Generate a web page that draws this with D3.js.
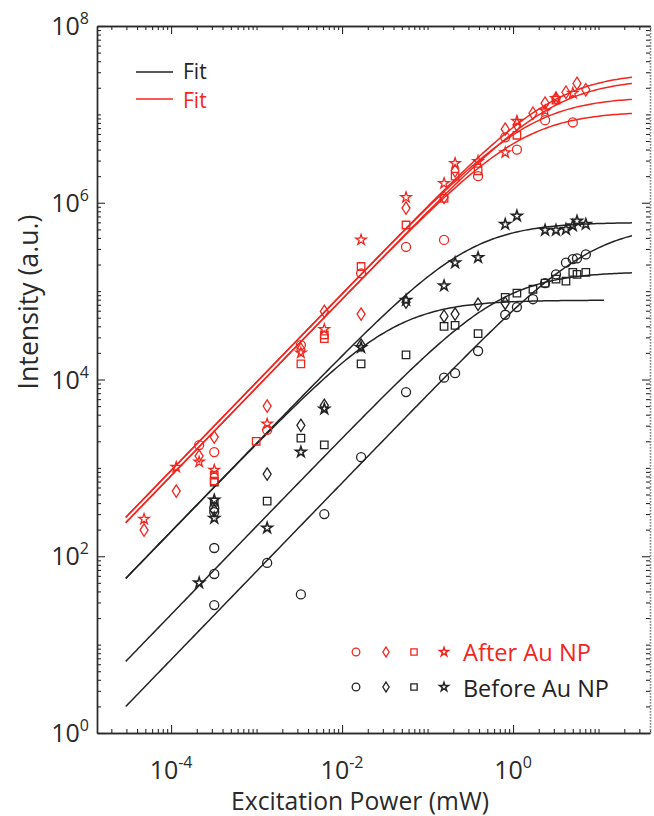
<!DOCTYPE html>
<html><head><meta charset="utf-8">
<script src="https://cdn.jsdelivr.net/npm/d3@7"></script>
<style>
body{margin:0;background:#fff;}
text{font-family:"Open Sans","Noto Sans",sans-serif;}
</style></head>
<body><svg id="c" width="654" height="816"></svg>
<script>
// ---------- tick labels ----------
const xMajorTicks = [1e-4, 1e-2, 1e0];
const xTickExps = ["-4", "-2", "0"];
const yMajorTicks = [1e0, 1e2, 1e4, 1e6, 1e8];
const yTickExps = ["0", "2", "4", "6", "8"];

// ---------- After Au NP (red) ----------
const afterCircleP = [2.13e-4, 3.2e-4, 1.33e-3, 3.3e-3, 1.67e-2, 5.6e-2, 0.156, 0.39, 0.81, 1.11, 2.37, 5.0];
const afterCircleI = [1810, 1510, 2690, 24500, 1.59e5, 3.16e5, 3.8e5, 2.0e6, 5.5e6, 4.0e6, 8.6e6, 8.1e6];
const afterDiamondP = [4.83e-5, 1.15e-4, 2.13e-4, 3.2e-4, 1.33e-3, 3.3e-3, 6.2e-3, 1.67e-2, 5.6e-2, 0.156, 0.21, 0.81, 1.11, 1.71, 2.37, 3.18, 4.16, 5.6, 7.1];
const afterDiamondI = [198, 546, 1360, 2230, 5000, 2.2e4, 5.9e4, 5.5e4, 8.7e5, 1.15e6, 2.3e6, 6.8e6, 7.6e6, 1.03e7, 1.34e7, 1.52e7, 1.78e7, 2.24e7, 1.9e7];
const afterSquareP = [3.2e-4, 3.2e-4, 9.9e-4, 3.3e-3, 6.2e-3, 6.2e-3, 1.67e-2, 5.6e-2, 0.156, 0.21, 0.39, 1.11, 3.18];
const afterSquareI = [830, 710, 2000, 1.5e4, 3.2e4, 2.9e4, 1.9e5, 5.6e5, 1.12e6, 2.0e6, 2.3e6, 5.8e6, 1.45e7];
const afterStarP = [4.83e-5, 1.15e-4, 2.13e-4, 3.2e-4, 1.33e-3, 3.3e-3, 6.2e-3, 1.67e-2, 5.6e-2, 0.156, 0.21, 0.39, 0.81, 1.11, 2.37, 3.18, 5.0];
const afterStarI = [263, 1020, 1170, 945, 3150, 2.0e4, 3.7e4, 3.8e5, 1.15e6, 1.66e6, 2.8e6, 2.95e6, 3.7e6, 8.4e6, 1.1e7, 1.52e7, 1.74e7];

// ---------- Before Au NP (black) ----------
const beforeCircleP = [3.2e-4, 3.2e-4, 3.2e-4, 3.2e-4, 3.2e-4, 1.33e-3, 3.3e-3, 6.2e-3, 1.67e-2, 5.6e-2, 0.156, 0.21, 0.39, 0.81, 1.11, 1.71, 2.37, 3.18, 4.16, 5.0, 5.6, 7.1];
const beforeCircleI = [350, 316, 124, 63, 28, 84, 37, 300, 1320, 7200, 1.05e4, 1.18e4, 2.1e4, 5.4e4, 6.6e4, 8.1e4, 1.23e5, 1.55e5, 2.1e5, 2.3e5, 2.35e5, 2.6e5];
const beforeDiamondP = [3.2e-4, 1.33e-3, 3.3e-3, 6.2e-3, 1.67e-2, 5.6e-2, 0.156, 0.21, 0.39, 0.81];
const beforeDiamondI = [330, 850, 3030, 5100, 2.45e4, 7.5e4, 5.2e4, 5.5e4, 7.1e4, 7.3e4];
const beforeSquareP = [3.2e-4, 3.2e-4, 1.33e-3, 3.3e-3, 6.2e-3, 1.67e-2, 5.6e-2, 0.156, 0.21, 0.39, 0.81, 1.11, 1.71, 2.37, 3.18, 4.16, 5.0, 5.6, 7.1];
const beforeSquareI = [690, 410, 420, 2170, 1820, 1.5e4, 1.9e4, 4.0e4, 4.1e4, 3.3e4, 8.5e4, 9.5e4, 1.05e5, 1.23e5, 1.37e5, 1.3e5, 1.63e5, 1.55e5, 1.63e5];
const beforeStarP = [2.13e-4, 3.2e-4, 3.2e-4, 1.33e-3, 3.3e-3, 6.2e-3, 1.67e-2, 5.6e-2, 0.156, 0.21, 0.39, 0.81, 1.11, 2.37, 3.18, 4.16, 5.0, 5.6, 7.1];
const beforeStarI = [50, 433, 270, 209, 1510, 4640, 2.3e4, 7.9e4, 1.15e5, 2.1e5, 2.4e5, 5.7e5, 7.1e5, 4.9e5, 4.9e5, 5.0e5, 5.5e5, 6.2e5, 5.7e5];

// ---------- saturation fits  I = Imax*(P/Psat)/(1+P/Psat) ----------
const fitGroup = ["after", "after", "after", "after", "before", "before", "before", "before"];
const fitImax  = [2.97e7, 2.52e7, 1.58e7, 1.08e7, 6.0e5, 7.9e4, 1.66e5, 5.68e5];
const fitPsat  = [3.18, 3.10, 1.694, 1.327, 0.315, 0.0415, 0.758, 8.4];
const fitPmin  = [2.95e-5, 2.95e-5, 2.95e-5, 2.95e-5, 2.95e-5, 2.95e-5, 2.95e-5, 2.95e-5];
const fitPmax  = [24.6, 24.6, 24.6, 24.6, 24.6, 11.6, 24.6, 24.6];

const legendLabels = ["After Au NP", "Before Au NP"];
const fitLabel = "Fit";

// ================== drawing ==================
const RED = "#f0261f", BLK = "#232323", AX = "#2a2a2a";
const svg = d3.select("#c");
const x = d3.scaleLog().domain([1.36e-5, 40]).range([97, 650]);
const y = d3.scaleLog().domain([1, 1e8]).range([733, 26]);

function minorTicks(lo, hi, scale) {
  const out = [];
  for (let k = lo; k <= hi; k++) for (let m = 1; m <= 9; m++) {
    const v = m * Math.pow(10, k);
    const d = scale.domain();
    if (v >= d[0] * 0.999 && v <= d[1] * 1.001) out.push(v);
  }
  return out;
}
const isMajor = (arr, v) => arr.some(t => Math.abs(Math.log10(t) - Math.log10(v)) < 1e-6);
const xMinor = minorTicks(-5, 1, x).filter(v => !isMajor(xMajorTicks, v));
const yMinor = minorTicks(0, 7, y).filter(v => !isMajor(yMajorTicks, v));

function styleAxis(g, color, dash) {
  g.select(".domain").attr("stroke", color).attr("stroke-width", 1.4).attr("stroke-dasharray", dash || null);
  g.selectAll(".tick line").attr("stroke", AX).attr("stroke-width", 1.1);
  g.selectAll(".tick text").remove();
}
function addAxis(axisFn, scale, tr, vals, size, color, dash) {
  svg.append("g").attr("transform", tr)
    .call(axisFn(scale).tickValues(vals).tickSize(-size).tickSizeOuter(0).tickFormat(""))
    .call(g => styleAxis(g, color, dash));
}
// minor
addAxis(d3.axisBottom, x, "translate(0,733)", xMinor, 4, AX);
addAxis(d3.axisTop, x, "translate(0,26)", xMinor, 4, AX);
addAxis(d3.axisLeft, y, "translate(97,0)", yMinor, 4, AX);
addAxis(d3.axisRight, y, "translate(650,0)", yMinor, 4, "#888", "1.5,1.5");
// major
addAxis(d3.axisBottom, x, "translate(0,733)", xMajorTicks, 8, AX);
addAxis(d3.axisTop, x, "translate(0,26)", xMajorTicks, 8, AX);
addAxis(d3.axisLeft, y, "translate(97,0)", yMajorTicks, 8, AX);
addAxis(d3.axisRight, y, "translate(650,0)", yMajorTicks, 8, "#888", "1.5,1.5");

// tick labels
xMajorTicks.forEach((v, i) => {
  const t = svg.append("text").attr("x", x(v)).attr("y", 779).attr("text-anchor", "middle").attr("fill", AX);
  t.append("tspan").attr("font-size", 25).text("10");
  t.append("tspan").attr("font-size", 16).attr("dy", -11).text(xTickExps[i]);
});
yMajorTicks.forEach((v, i) => {
  const t = svg.append("text").attr("x", 89).attr("y", y(v) + 9).attr("text-anchor", "end").attr("fill", AX);
  t.append("tspan").attr("font-size", 25).text("10");
  t.append("tspan").attr("font-size", 16).attr("dy", -11).text(yTickExps[i]);
});

function fitWidth(sel, w) {
  const L = sel.node().getComputedTextLength();
  sel.attr("font-size", parseFloat(sel.attr("font-size")) * w / L);
}
// axis titles
const xt = svg.append("text").attr("x", 360).attr("y", 810).attr("text-anchor", "middle")
  .attr("font-size", 22).attr("fill", AX).text("Excitation Power (mW)");
fitWidth(xt, 258);
const yt = svg.append("text").attr("transform", "translate(38,302) rotate(-90)").attr("text-anchor", "middle")
  .attr("font-size", 24).attr("fill", AX).text("Intensity (a.u.)");
fitWidth(yt, 175);

// fit curves
const line = d3.line().x(d => x(d[0])).y(d => y(d[1]));
fitImax.forEach((Imax, i) => {
  const pts = d3.range(0, 201).map(j => {
    const lp = Math.log10(fitPmin[i]) + (Math.log10(fitPmax[i]) - Math.log10(fitPmin[i])) * j / 200;
    const P = Math.pow(10, lp), u = P / fitPsat[i];
    return [P, Imax * u / (1 + u)];
  });
  svg.append("path").attr("d", line(pts)).attr("fill", "none")
    .attr("stroke", fitGroup[i] === "after" ? RED : BLK).attr("stroke-width", 1.5);
});

// markers
const tallDiamond = { draw(ctx, size) { const w = Math.sqrt(size) * 0.5, h = Math.sqrt(size) * 0.78;
  ctx.moveTo(0, -h); ctx.lineTo(w, 0); ctx.lineTo(0, h); ctx.lineTo(-w, 0); ctx.closePath(); } };
const shapes = { circle: [d3.symbolCircle, 64], diamond: [tallDiamond, 64], square: [d3.symbolSquare, 56], star: [d3.symbolStar, 34] };
function drawSeries(P, I, shape, color, sw) {
  const [type, size] = shapes[shape];
  const sym = d3.symbol().type(type).size(size);
  svg.append("g").selectAll("path").data(P.map((p, i) => [p, I[i]])).join("path")
    .attr("d", sym).attr("transform", d => `translate(${x(d[0])},${y(d[1])})`)
    .attr("fill", "none").attr("stroke", color).attr("stroke-width", sw);
}
drawSeries(beforeCircleP, beforeCircleI, "circle", BLK, 1.3);
drawSeries(beforeDiamondP, beforeDiamondI, "diamond", BLK, 1.3);
drawSeries(beforeSquareP, beforeSquareI, "square", BLK, 1.3);
drawSeries(beforeStarP, beforeStarI, "star", BLK, 1.6);
drawSeries(afterCircleP, afterCircleI, "circle", RED, 1.3);
drawSeries(afterDiamondP, afterDiamondI, "diamond", RED, 1.3);
drawSeries(afterSquareP, afterSquareI, "square", RED, 1.3);
drawSeries(afterStarP, afterStarI, "star", RED, 1.3);

// legend: Fit lines (top-left)
[[BLK, 72, 79], [RED, 99, 108]].forEach(([c, ly, ty]) => {
  svg.append("line").attr("x1", 136).attr("x2", 173).attr("y1", ly).attr("y2", ly).attr("stroke", c).attr("stroke-width", 1.5);
  svg.append("text").attr("x", 183).attr("y", ty).attr("font-size", 21).attr("fill", c).text(fitLabel);
});

// legend: markers (bottom-right)
const legShapes = [["circle", 356, 46], ["diamond", 386, 40], ["square", 414, 40], ["star", 444, 24]];
[[RED, 652, 661, legendLabels[0], 128], [BLK, 687, 697, legendLabels[1], 146]].forEach(([c, my, ty, lab, w]) => {
  legShapes.forEach(([s, lx, sz]) => {
    svg.append("path").attr("d", d3.symbol().type(shapes[s][0]).size(sz)())
      .attr("transform", `translate(${lx},${my})`).attr("fill", "none").attr("stroke", c)
      .attr("stroke-width", s === "star" ? 1.5 : 1.3);
  });
  const t = svg.append("text").attr("x", 463).attr("y", ty).attr("font-size", 24).attr("fill", c).text(lab);
  fitWidth(t, w);
});
</script>
</body></html>
